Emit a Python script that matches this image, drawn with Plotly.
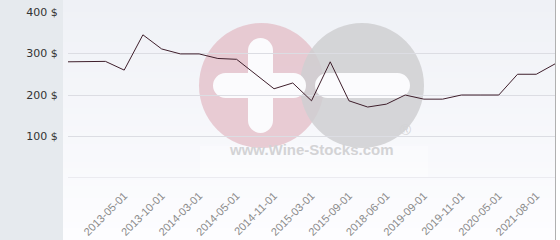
import plotly.graph_objects as go

# ---- data ----
dates = ["2012-12-01", "2013-02-01", "2013-04-01", "2013-05-01", "2013-07-01",
         "2013-10-01", "2014-01-01", "2014-03-01", "2014-04-01", "2014-05-01",
         "2014-09-01", "2014-11-01", "2015-01-01", "2015-03-01", "2015-06-01",
         "2015-09-01", "2017-01-01", "2018-06-01", "2019-03-01", "2019-09-01",
         "2019-10-01", "2019-11-01", "2020-02-01", "2020-05-01", "2021-03-01",
         "2021-08-01", "2021-12-01"]
prices = [280, 281, 281, 260, 345, 311, 299, 299, 288, 286, 251, 215, 229, 186,
          280, 186, 171, 178, 200, 190, 190, 200, 200, 200, 250, 250, 275]
label_dates = ["2013-05-01", "2013-10-01", "2014-03-01", "2014-05-01", "2014-11-01",
               "2015-03-01", "2015-09-01", "2018-06-01", "2019-09-01", "2019-11-01",
               "2020-05-01", "2021-08-01"]
y_ticks = [0, 100, 200, 300, 400]
y_labels = ["", "100 $", "200 $", "300 $", "400 $"]

# ---- layout geometry ----
W, H = 560, 240
L, R, T, B = 68, 5, 12, 62
PW, PH = W - L - R, H - T - B


def px(x):
    return (x - L) / PW


def py(y):
    return (H - B - y) / PH


shapes = []


def rect(x0, y0, x1, y1, color, opacity=1.0, layer="below"):
    shapes.append(dict(type="rect", xref="paper", yref="paper",
                       x0=px(x0), x1=px(x1), y0=py(y1), y1=py(y0),
                       fillcolor=color, opacity=opacity, line=dict(width=0), layer=layer))


def circle(x0, y0, x1, y1, color, opacity=1.0):
    shapes.append(dict(type="circle", xref="paper", yref="paper",
                       x0=px(x0), x1=px(x1), y0=py(y1), y1=py(y0),
                       fillcolor=color, opacity=opacity, line=dict(width=0), layer="below"))


def stadium(x0, y0, x1, y1, color):
    w, h = x1 - x0, y1 - y0
    if w >= h:
        r = h / 2
        rect(x0 + r, y0, x1 - r, y1, color)
        circle(x0, y0, x0 + h, y1, color)
        circle(x1 - h, y0, x1, y1, color)
    else:
        r = w / 2
        rect(x0, y0 + r, x1, y1 - r, color)
        circle(x0, y0, x1, y0 + w, color)
        circle(x0, y1 - w, x1, y1, color)


# left panel
rect(0, 0, 63, H, "#e6eaee")
# plot background gradient
n = 40
top = (239, 241, 246)
bot = (253, 253, 255)
for i in range(n):
    t = i / (n - 1)
    c = tuple(round(top[k] + (bot[k] - top[k]) * t) for k in range(3))
    rect(63, H * i / n, 555, H * (i + 1) / n + 0.5, "rgb(%d,%d,%d)" % c)

# watermark
rect(200, 146, 428, 177, "#ffffff", 0.35)
circle(199, 23, 324, 148, "#e3bcc6", 0.75)
circle(300, 23, 424, 148, "#cfcfd1", 0.85)
stadium(248, 38, 273, 133, "#fbfbfd")
stadium(213, 73, 306, 98, "#fbfbfd")
stadium(315, 73, 410, 98, "#fbfbfd")

# baseline grid line at 0
shapes.append(dict(type="line", xref="paper", yref="y", x0=0, x1=1, y0=0, y1=0,
                   line=dict(color="#dcdde3", width=1), layer="below"))

# right border
shapes.append(dict(type="line", xref="paper", yref="paper",
                   x0=px(555.5), x1=px(555.5), y0=py(H), y1=py(0),
                   line=dict(color="#b0b0b0", width=1), layer="above"))

fig = go.Figure()
fig.add_trace(go.Scatter(x=dates, y=prices, mode="lines",
                         line=dict(color="#3f1f2c", width=1),
                         hoverinfo="skip", showlegend=False))

fig.update_layout(
    width=W, height=H,
    margin=dict(l=L, r=R, t=T, b=B, pad=0, autoexpand=False),
    paper_bgcolor="#ffffff", plot_bgcolor="rgba(0,0,0,0)",
    shapes=shapes,
    annotations=[
        dict(text="<b>www.Wine-Stocks.com</b>", xref="paper", yref="paper",
             x=px(311), y=py(160), showarrow=False,
             font=dict(family="Liberation Sans", size=15, color="#d3d3d5")),
        dict(text="®", xref="paper", yref="paper", x=px(413), y=py(140),
             showarrow=False, font=dict(family="Liberation Sans", size=15, color="#d3d3d5")),
    ],
    xaxis=dict(type="category", range=[0, len(dates) - 1], showgrid=False,
               zeroline=False, showline=False, tickmode="array", automargin=False,
               tickvals=label_dates, ticktext=label_dates, tickangle=-45,
               ticks="outside", ticklen=6, tickcolor="rgba(0,0,0,0)",
               tickfont=dict(family="Liberation Sans", size=11, color="#8a8a8a")),
    yaxis=dict(range=[0, 400], tickmode="array", tickvals=y_ticks, ticktext=y_labels,
               showgrid=True, gridcolor="#dcdde3", gridwidth=1, zeroline=False,
               showline=False, ticks="outside", ticklen=7, tickcolor="rgba(0,0,0,0)",
               automargin=False,
               tickfont=dict(family="DejaVu Sans", size=11, color="#333333")),
)

fig.write_html("out.html")
